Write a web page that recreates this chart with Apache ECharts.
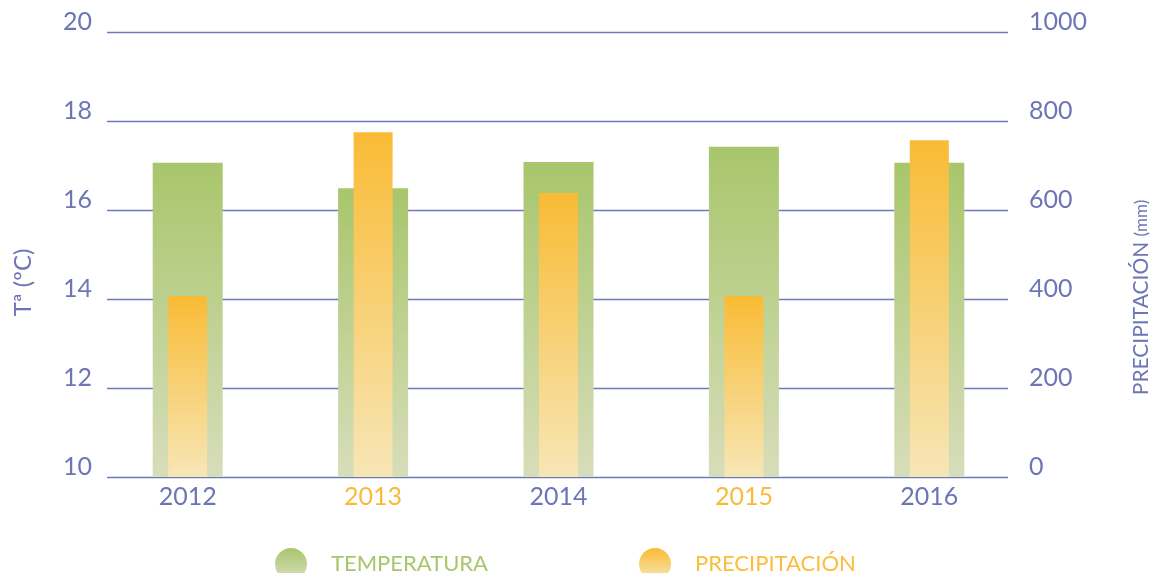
<!DOCTYPE html>
<html>
<head>
<meta charset="utf-8">
<script src="https://cdn.jsdelivr.net/npm/echarts@6/dist/echarts.min.js"></script>
<style>
  html, body { margin: 0; padding: 0; background: #fff; }
  #chart { width: 1160px; height: 573px; }
</style>
</head>
<body>
<div id="chart"></div>
<script>
// datos
const years = ['2012', '2013', '2014', '2015', '2016'];
const temperatura = [17.06, 16.49, 17.08, 17.42, 17.06];
const precipitacion = [407, 775, 638, 407, 757];
// escalas de los ejes
const tempMin = 10, tempMax = 20, tempStep = 2;
const precMin = 0, precMax = 1000, precStep = 200;

const azul = '#6d75b6';
const verde = '#a8c66c';
const naranja = '#f9bb37';
const fuente = 'Lato';

const gradVerde = new echarts.graphic.LinearGradient(0, 0, 0, 1, [
  { offset: 0, color: '#a8c66c' },
  { offset: 1, color: '#d7ddba' }
]);
const gradNaranja = new echarts.graphic.LinearGradient(0, 0, 0, 1, [
  { offset: 0, color: '#f9bb35' },
  { offset: 1, color: '#f7e6b6' }
]);

const chart = echarts.init(document.getElementById('chart'));

const option = {
  animation: false,
  // grid 0: líneas y ejes con rótulos; grid 1: barras
  grid: [
    { left: 107, right: 150, top: 32, bottom: 96 },
    { left: 95, right: 138, top: 32, bottom: 96 }
  ],
  legend: [
    {
      data: ['TEMPERATURA'],
      left: 270, top: 543,
      icon: 'circle', itemWidth: 32, itemHeight: 32,
      textStyle: { color: verde, fontSize: 22, fontFamily: fuente, padding: [2, 0, 0, 19] }
    },
    {
      data: ['PRECIPITACIÓN'],
      left: 634, top: 543,
      icon: 'circle', itemWidth: 32, itemHeight: 32,
      textStyle: { color: '#fbbd3a', fontSize: 22, fontFamily: fuente, padding: [2, 0, 0, 19] }
    }
  ],
  xAxis: [
    { gridIndex: 0, type: 'category', data: years, show: false },
    {
      gridIndex: 1, type: 'category', data: years,
      axisLine: { show: false }, axisTick: { show: false },
      axisLabel: {
        margin: 7, fontSize: 25, fontFamily: fuente,
        color: function (v, i) { return i % 2 === 1 ? naranja : azul; }
      }
    },
    { gridIndex: 1, type: 'category', data: years, show: false }
  ],
  yAxis: [
    {
      gridIndex: 0, type: 'value', position: 'left',
      min: tempMin, max: tempMax, interval: tempStep,
      name: 'Tª (ºC)', nameLocation: 'middle', nameGap: 72,
      nameTextStyle: { color: azul, fontSize: 24, fontFamily: fuente, padding: [0, 56, 0, 0] },
      axisLine: { show: false }, axisTick: { show: false },
      axisLabel: { margin: 15, fontSize: 25, fontFamily: fuente, color: azul, verticalAlign: 'bottom', lineHeight: 20 },
      splitLine: { lineStyle: { color: '#6f78b8', width: 1.3 } }
    },
    {
      gridIndex: 0, type: 'value', position: 'right',
      min: precMin, max: precMax, interval: precStep,
      name: '{a|PRECIPITACIÓN }{b|(mm)}', nameLocation: 'middle', nameGap: 123,
      nameTextStyle: {
        color: azul, fontFamily: fuente, padding: [0, 86, 0, 0],
        rich: {
          a: { fontSize: 21, color: azul, fontFamily: fuente },
          b: { fontSize: 17, color: azul, fontFamily: fuente }
        }
      },
      axisLine: { show: false }, axisTick: { show: false },
      axisLabel: {
        margin: 21, fontSize: 25, fontFamily: fuente, color: azul, verticalAlign: 'bottom', lineHeight: 20,
        formatter: function (v) { return String(v); }
      },
      splitLine: { show: false }
    },
    { gridIndex: 1, type: 'value', min: tempMin, max: tempMax, startValue: tempMin, show: false, splitLine: { show: false } },
    { gridIndex: 1, type: 'value', min: precMin, max: precMax, show: false, splitLine: { show: false } }
  ],
  series: [
    {
      name: 'TEMPERATURA', type: 'bar',
      xAxisIndex: 1, yAxisIndex: 2,
      barWidth: 70,
      itemStyle: { color: gradVerde },
      data: temperatura
    },
    {
      name: 'PRECIPITACIÓN', type: 'bar',
      xAxisIndex: 2, yAxisIndex: 3,
      barWidth: 39,
      itemStyle: { color: gradNaranja },
      data: precipitacion
    }
  ]
};

chart.setOption(option);
</script>
</body>
</html>
